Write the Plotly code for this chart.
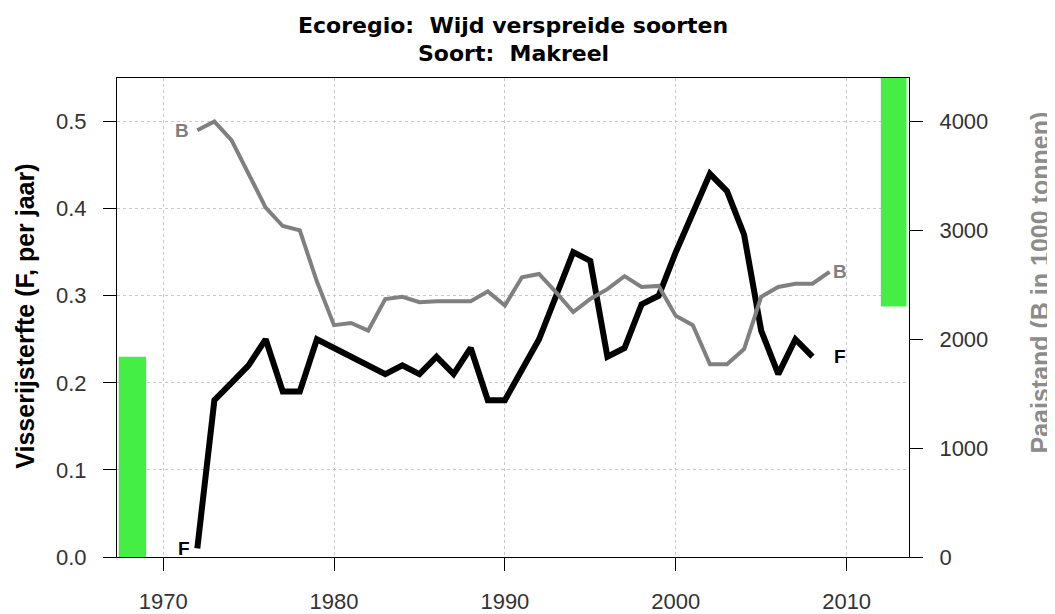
import plotly.graph_objects as go

# ---- data ----
years_F = list(range(1972, 2009))
F_values = [0.01, 0.18, 0.20, 0.22, 0.25, 0.19, 0.19, 0.25, 0.24, 0.23,
            0.22, 0.21, 0.22, 0.21, 0.23, 0.21, 0.24, 0.18, 0.18, 0.215,
            0.25, 0.30, 0.35, 0.34, 0.23, 0.24, 0.29, 0.30, 0.35, 0.395,
            0.44, 0.42, 0.37, 0.26, 0.21, 0.25, 0.23]
years_B = list(range(1972, 2010))
B_values = [3920, 4000, 3830, 3520, 3210, 3040, 3000, 2530, 2130, 2150,
            2080, 2370, 2390, 2340, 2350, 2350, 2350, 2440, 2310, 2570,
            2600, 2430, 2250, 2370, 2460, 2580, 2480, 2490, 2215, 2130,
            1770, 1770, 1910, 2390, 2480, 2510, 2510, 2620]
F_pa = 0.23      # reference point F
B_pa = 2300      # reference point B (1000 t)
x_ticks = [1970, 1980, 1990, 2000, 2010]
F_ticks = [0.0, 0.1, 0.2, 0.3, 0.4, 0.5]
B_ticks = [0, 1000, 2000, 3000, 4000]

title_1 = "Ecoregio:\u00a0 Wijd verspreide soorten"
title_2 = "Soort:\u00a0 Makreel"
ytitle_left = "Visserijsterfte (F, per jaar)"
ytitle_right = "Paaistand (B in 1000 tonnen)"

# ---- layout constants ----
X_RANGE = [1967.3, 2013.65]
F_MAX = 0.55
B_MAX = 4400
GREEN = "#44ee44"
GRAY = "#808080"
TICKCOL = "#333333"

fig = go.Figure()

# reference bars
fig.add_trace(go.Bar(x=[1968.2], y=[F_pa], width=[1.6], base=[0],
                     marker=dict(color=GREEN, line=dict(width=0)),
                     yaxis="y", showlegend=False, hoverinfo="skip"))
fig.add_trace(go.Bar(x=[2012.75], y=[B_MAX - B_pa], width=[1.5], base=[B_pa],
                     marker=dict(color=GREEN, line=dict(width=0)),
                     yaxis="y2", showlegend=False, hoverinfo="skip"))

# lines
fig.add_trace(go.Scatter(x=years_B, y=B_values, mode="lines", yaxis="y2",
                         line=dict(color=GRAY, width=4), showlegend=False))
fig.add_trace(go.Scatter(x=years_F, y=F_values, mode="lines", yaxis="y",
                         line=dict(color="black", width=6), showlegend=False))

ann = []
lab_font_B = dict(family="Liberation Sans", size=19, color=GRAY, weight="bold")
lab_font_F = dict(family="Liberation Sans", size=19, color="black", weight="bold")
ann.append(dict(x=years_B[0] - 0.9, y=B_values[0], xref="x", yref="y2", text="B",
                showarrow=False, font=lab_font_B, xanchor="center", yanchor="middle"))
ann.append(dict(x=years_B[-1] + 0.6, y=B_values[-1], xref="x", yref="y2", text="B",
                showarrow=False, font=lab_font_B, xanchor="center", yanchor="middle"))
ann.append(dict(x=years_F[0] - 0.8, y=F_values[0], xref="x", yref="y", text="F",
                showarrow=False, font=lab_font_F, xanchor="center", yanchor="middle"))
ann.append(dict(x=years_F[-1] + 1.6, y=F_values[-1], xref="x", yref="y", text="F",
                showarrow=False, font=lab_font_F, xanchor="center", yanchor="middle"))

# titles
tfont = dict(family="DejaVu Sans", size=22, color="black", weight="bold")
ann.append(dict(x=0.5, y=(557 - 26) / 479, xref="paper", yref="paper", text=title_1,
                showarrow=False, font=tfont, xanchor="center", yanchor="middle"))
ann.append(dict(x=0.5, y=(557 - 54) / 479, xref="paper", yref="paper", text=title_2,
                showarrow=False, font=tfont, xanchor="center", yanchor="middle"))
ann.append(dict(x=0, y=(557 - 316.7) / 479, xref="paper", yref="paper", text=ytitle_left,
                showarrow=False, textangle=-90, xshift=-92,
                font=dict(family="Liberation Sans", size=25, color="black", weight="bold"),
                xanchor="center", yanchor="middle"))
ann.append(dict(x=1, y=(557 - 282.5) / 479, xref="paper", yref="paper", text=ytitle_right,
                showarrow=False, textangle=-90, xshift=130,
                font=dict(family="Liberation Sans", size=25, color="#8c8c8c", weight="bold"),
                xanchor="center", yanchor="middle"))

# the page places the figure 8 px from the window's top-left corner
tickfont = dict(family="Liberation Sans", size=22, color=TICKCOL)
fig.update_layout(
    width=1047, height=606,
    margin=dict(l=109, r=146, t=70, b=57),
    paper_bgcolor="white", plot_bgcolor="white",
    barmode="overlay",
    showlegend=False,
    annotations=ann,
    xaxis=dict(range=X_RANGE, tickvals=x_ticks, ticks="outside", ticklen=13,
               tickcolor="black", tickwidth=1, showline=True, linecolor="black",
               linewidth=1, mirror=True, showgrid=True, gridcolor="#c8c8c8",
               griddash="dot", gridwidth=1, zeroline=False, tickfont=tickfont,
               ticklabelstandoff=12, automargin=False),
    yaxis=dict(range=[0, F_MAX], tickvals=F_ticks, tickformat=".1f",
               ticks="outside", ticklen=13, tickcolor="black", tickwidth=1,
               showline=True, linecolor="black", linewidth=1, showgrid=True,
               gridcolor="#c8c8c8", griddash="dot", gridwidth=1, zeroline=False,
               tickfont=tickfont, ticklabelstandoff=12, automargin=False),
    yaxis2=dict(range=[0, B_MAX], tickvals=B_ticks, overlaying="y", side="right",
                ticks="outside", ticklen=13, tickcolor="black", tickwidth=1,
                showline=True, linecolor="black", linewidth=1, showgrid=False,
                zeroline=False, tickfont=tickfont, ticklabelstandoff=12,
                automargin=False),
)

fig.write_html("out.html")
